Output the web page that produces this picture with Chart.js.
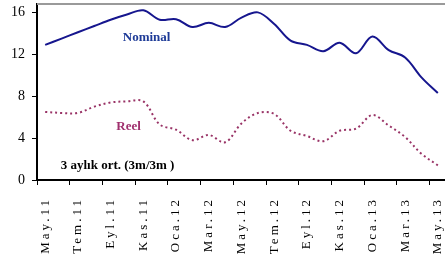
<!DOCTYPE html>
<html>
<head>
<meta charset="utf-8">
<script src="https://cdn.jsdelivr.net/npm/chart.js@4.4.1/dist/chart.umd.min.js"></script>
<style>
  html, body { margin: 0; padding: 0; background: #fff; overflow: hidden; }
  canvas { display: block; }
</style>
</head>
<body>
<canvas id="rateChart" width="450" height="259"></canvas>
<script>
// months, only every second one gets a label on the axis
const months = ['May.11','Haz.11','Tem.11','Ağu.11','Eyl.11','Eki.11','Kas.11','Ara.11',
                'Oca.12','Şub.12','Mar.12','Nis.12','May.12','Haz.12','Tem.12','Ağu.12',
                'Eyl.12','Eki.12','Kas.12','Ara.12','Oca.13','Şub.13','Mar.13','Nis.13','May.13'];

const nominal = [12.9, 13.5, 14.1, 14.7, 15.3, 15.8, 16.2, 15.3, 15.35, 14.6, 15.0, 14.6, 15.5,
                 16.0, 14.9, 13.3, 12.9, 12.3, 13.1, 12.1, 13.7, 12.4, 11.7, 9.8, 8.3];

const reel = [6.5, 6.4, 6.4, 7.0, 7.4, 7.5, 7.5, 5.3, 4.8, 3.8, 4.3, 3.6, 5.4,
              6.4, 6.3, 4.7, 4.2, 3.7, 4.7, 4.9, 6.2, 5.2, 4.1, 2.5, 1.4];

const yTicks = [0, 4, 8, 12, 16];

const notes = [
    { text: 'Nominal', x: 6.2, y: 13.6, color: '#1f3c98', align: 'center' },
    { text: 'Reel', x: 5.1, y: 5.05, color: '#a0306e', align: 'center' },
    { text: '3 aylık ort. (3m/3m )', x: 0.95, y: 1.35, color: '#000', align: 'left' }
];

const notesPlugin = {
    id: 'notes',
    afterLayout(chart) {
        const s = chart.scales.x;
        if (!s._spaced) {
            const orig = s.drawLabels.bind(s);
            s.drawLabels = function (area) {
                const c = this.ctx;
                c.save();
                c.letterSpacing = '3px';
                orig(area);
                c.restore();
            };
            s._spaced = true;
        }
    },
    afterDraw(chart) {
        const ctx = chart.ctx;
        const a = chart.chartArea;
        ctx.save();
        // grey top border of the plot
        ctx.strokeStyle = '#9a9a9a';
        ctx.lineWidth = 2;
        ctx.beginPath();
        ctx.moveTo(a.left, a.top);
        ctx.lineTo(a.right, a.top);
        ctx.stroke();
        ctx.font = 'bold 13px "Liberation Serif"';
        ctx.textBaseline = 'middle';
        notes.forEach(n => {
            ctx.fillStyle = n.color;
            ctx.textAlign = n.align;
            ctx.fillText(n.text, chart.scales.x.getPixelForValue(n.x), chart.scales.y.getPixelForValue(n.y));
        });
        ctx.restore();
    }
};

new Chart(document.getElementById('rateChart'), {
    type: 'line',
    data: {
        labels: months,
        datasets: [{
            label: 'Nominal',
            data: nominal,
            borderColor: '#16168e',
            borderWidth: 2,
            pointRadius: 0,
            tension: 0.35,
            fill: false
        }, {
            label: 'Reel',
            data: reel,
            borderColor: '#993366',
            borderWidth: 2,
            borderDash: [2, 3],
            pointRadius: 0,
            tension: 0.35,
            fill: false
        }]
    },
    options: {
        responsive: false,
        animation: false,
        layout: { padding: { top: 4, right: 4, left: 0, bottom: 0 } },
        plugins: { legend: { display: false }, tooltip: { enabled: false } },
        scales: {
            x: {
                offset: true,
                afterFit(scale) {
                    scale.height = 79;
                    scale.paddingLeft = 0;
                    scale.paddingRight = 0;
                },
                grid: {
                    offset: true,
                    drawOnChartArea: false,
                    tickLength: 5,
                    tickColor: ctx => ctx.index % 2 === 0 ? '#000' : 'rgba(0,0,0,0)'
                },
                border: { color: '#000', width: 2 },
                ticks: {
                    autoSkip: false,
                    minRotation: 90,
                    maxRotation: 90,
                    padding: 12,
                    color: '#000',
                    font: { family: '"Liberation Serif"', size: 13 },
                    callback: (v, i) => i % 2 === 0 ? months[i] : ''
                }
            },
            y: {
                min: 0,
                max: 16.8,
                afterFit(scale) {
                    scale.width = 37;
                    scale.paddingTop = 0;
                    scale.paddingBottom = 0;
                },
                afterBuildTicks(scale) { scale.ticks = yTicks.map(v => ({ value: v })); },
                grid: { drawOnChartArea: false, tickLength: 5, tickColor: '#000' },
                border: { color: '#000', width: 2 },
                ticks: {
                    padding: 7,
                    color: '#000',
                    font: { family: '"Liberation Serif"', size: 14 }
                }
            }
        }
    },
    plugins: [notesPlugin]
});
</script>
</body>
</html>
